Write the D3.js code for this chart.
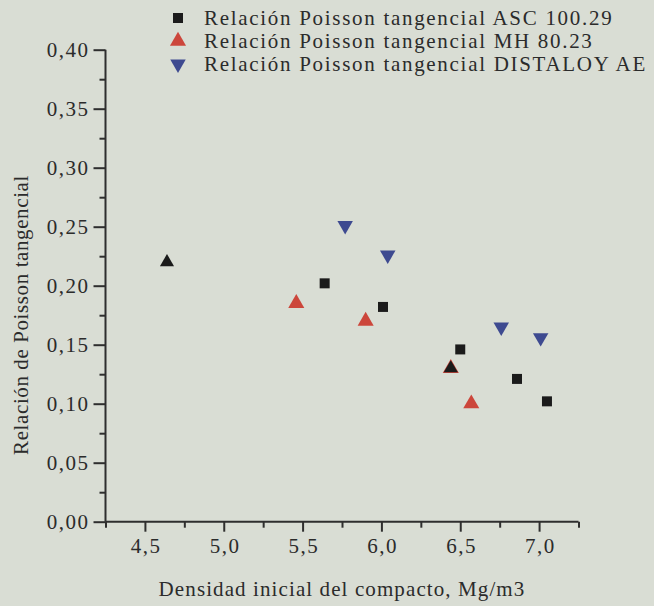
<!DOCTYPE html>
<html>
<head>
<meta charset="utf-8">
<script src="https://cdn.jsdelivr.net/npm/d3@7"></script>
<style>
  html, body { margin: 0; padding: 0; background: #d9ddd4; }
  svg { display: block; }
  svg text { font-family: "Liberation Serif", "Times New Roman", Times, serif !important; fill: #2b2b2b; }
</style>
</head>
<body>
<svg id="chart" width="654" height="606"></svg>
<script>
// Series: initial compact density (Mg/m3) vs tangential Poisson ratio
const ascDensity = [5.64, 6.01, 6.50, 6.86, 7.05];
const ascPoisson = [0.202, 0.182, 0.146, 0.121, 0.102];

const mhDensity = [5.46, 5.90, 6.44, 6.57];
const mhPoisson = [0.185, 0.170, 0.130, 0.100];

const distaloyDensity = [5.77, 6.04, 6.76, 7.01];
const distaloyPoisson = [0.251, 0.226, 0.165, 0.156];

// additional dark triangle points
const darkDensity = [4.64, 6.44];
const darkPoisson = [0.220, 0.130];

const seriesNames = [
  "Relación Poisson tangencial ASC 100.29",
  "Relación Poisson tangencial MH 80.23",
  "Relación Poisson tangencial DISTALOY AE"
];

const xTicks = [4.5, 5.0, 5.5, 6.0, 6.5, 7.0];
const xTickLabels = ["4,5", "5,0", "5,5", "6,0", "6,5", "7,0"];
const xMinorTicks = [4.25, 4.75, 5.25, 5.75, 6.25, 6.75, 7.25];
const yTicks = [0.00, 0.05, 0.10, 0.15, 0.20, 0.25, 0.30, 0.35, 0.40];
const yTickLabels = ["0,00", "0,05", "0,10", "0,15", "0,20", "0,25", "0,30", "0,35", "0,40"];
const yMinorTicks = [0.025, 0.075, 0.125, 0.175, 0.225, 0.275, 0.325, 0.375];

const xTitle = "Densidad inicial del compacto, Mg/m3";
const yTitle = "Relación de Poisson tangencial";

const colBlack = "#1b1b1b", colRed = "#cc463b", colBlue = "#3e4a90";

const svg = d3.select("#chart");
const x = d3.scaleLinear().domain([4.25, 7.25]).range([105.5, 578.5]);
const y = d3.scaleLinear().domain([0, 0.40]).range([521.7, 49.7]);

const axisColor = "#2e2e2e";

// x axis: major + minor ticks
const gx = svg.append("g").attr("transform", `translate(0,${y(0)})`);
gx.call(d3.axisBottom(x).tickValues(xTicks).tickSize(10).tickPadding(6)
  .tickFormat((d, i) => xTickLabels[i]));
gx.call(g => g.selectAll(".tick line").attr("stroke", axisColor).attr("stroke-width", 2));
gx.call(g => g.select(".domain").attr("stroke", axisColor).attr("stroke-width", 2)
  .attr("d", `M${x(4.25)},0H${x(7.25)}`));
gx.selectAll("text").attr("font-size", 21).attr("letter-spacing", 1.5).attr("dx", 0.75);
const gxm = svg.append("g").attr("transform", `translate(0,${y(0)})`);
gxm.call(d3.axisBottom(x).tickValues(xMinorTicks).tickSize(6).tickFormat(""));
gxm.call(g => g.select(".domain").remove());
gxm.selectAll(".tick line").attr("stroke", axisColor).attr("stroke-width", 2);

// y axis: major + minor ticks
const gy = svg.append("g").attr("transform", `translate(${x(4.25)},0)`);
gy.call(d3.axisLeft(y).tickValues(yTicks).tickSize(12).tickPadding(4)
  .tickFormat((d, i) => yTickLabels[i]));
gy.call(g => g.selectAll(".tick line").attr("stroke", axisColor).attr("stroke-width", 2));
gy.call(g => g.select(".domain").attr("stroke", axisColor).attr("stroke-width", 2)
  .attr("d", `M0,${y(0)}V${y(0.40)}`));
gy.selectAll("text").attr("font-size", 21).attr("letter-spacing", 1.5);
const gym = svg.append("g").attr("transform", `translate(${x(4.25)},0)`);
gym.call(d3.axisLeft(y).tickValues(yMinorTicks).tickSize(6).tickFormat(""));
gym.call(g => g.select(".domain").remove());
gym.selectAll(".tick line").attr("stroke", axisColor).attr("stroke-width", 2);

// axis titles
svg.append("text")
  .attr("x", 342).attr("y", 596)
  .attr("text-anchor", "middle").attr("font-size", 21).attr("letter-spacing", 1.1)
  .text(xTitle);
svg.append("text")
  .attr("transform", `translate(28,${315}) rotate(-90)`)
  .attr("text-anchor", "middle").attr("font-size", 21).attr("letter-spacing", 0.6)
  .text(yTitle);

// markers
const sym = (type, size) => d3.symbol().type(type).size(size)();

function plot(xs, ys, path, fill, rotate) {
  svg.append("g").selectAll("path")
    .data(xs.map((d, i) => [d, ys[i]]))
    .join("path")
    .attr("d", path)
    .attr("fill", fill)
    .attr("transform", d => `translate(${x(d[0])},${y(d[1])})${rotate ? " rotate(180)" : ""}`);
}

plot(ascDensity, ascPoisson, sym(d3.symbolSquare, 100), colBlack, false);
plot(mhDensity, mhPoisson, sym(d3.symbolTriangle, 112), colRed, false);
plot(distaloyDensity, distaloyPoisson, sym(d3.symbolTriangle, 104), colBlue, true);
plot(darkDensity, darkPoisson, sym(d3.symbolTriangle, 86), colBlack, false);

// legend
const legend = svg.append("g");
const legendRows = [
  { path: sym(d3.symbolSquare, 100), fill: colBlack, rot: false },
  { path: sym(d3.symbolTriangle, 112), fill: colRed, rot: false },
  { path: sym(d3.symbolTriangle, 104), fill: colBlue, rot: true }
];
legendRows.forEach((r, i) => {
  const cy = 18 + i * 23;
  legend.append("path").attr("d", r.path).attr("fill", r.fill)
    .attr("transform", `translate(178,${cy})${r.rot ? " rotate(180)" : ""}`);
  legend.append("text").attr("x", 204).attr("y", cy + 7)
    .attr("font-size", 21).attr("letter-spacing", 1.7)
    .text(seriesNames[i]);
});
</script>
</body>
</html>
